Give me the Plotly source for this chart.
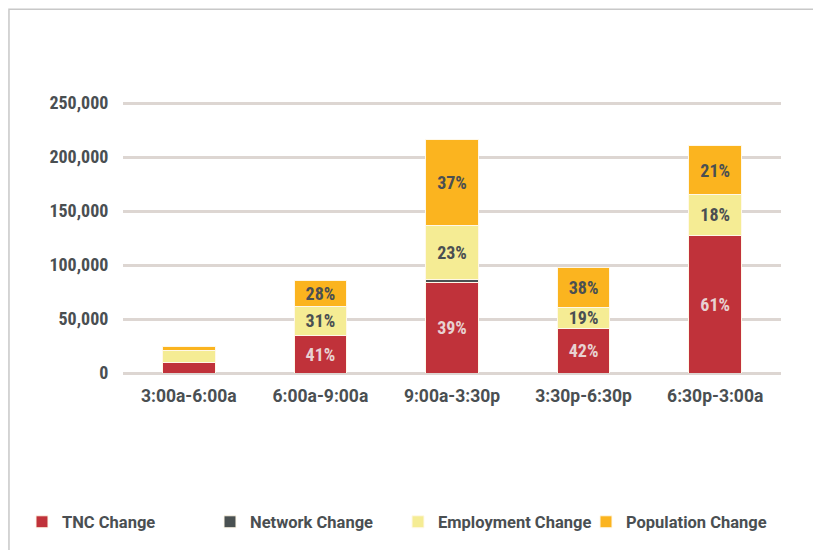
import plotly.graph_objects as go

categories = ["3:00a-6:00a", "6:00a-9:00a", "9:00a-3:30p", "3:30p-6:30p", "6:30p-3:00a"]
tnc = [10000, 35000, 83500, 41000, 127500]
network = [0, 0, 3500, 500, 0]
employment = [10500, 26500, 50000, 19000, 38000]
population = [4500, 24500, 79500, 37500, 45000]

tnc_labels = ["", "41%", "39%", "42%", "61%"]
network_labels = ["", "", "", "", ""]
employment_labels = ["", "31%", "23%", "19%", "18%"]
population_labels = ["", "28%", "37%", "38%", "21%"]

FONT = "Roboto Condensed, Liberation Sans Narrow, DejaVu Sans Condensed, Roboto"
FONT2 = "Roboto"
DARK = "#4a4f52"

series = [
    ("TNC Change", tnc, tnc_labels, "#c0323a", "#e8d2d2"),
    ("Network Change", network, network_labels, "#4a5152", DARK),
    ("Employment Change", employment, employment_labels, "#f5ec94", DARK),
    ("Population Change", population, population_labels, "#fbb41f", DARK),
]

fig = go.Figure()
for name, vals, labels, color, tcolor in series:
    fig.add_trace(go.Bar(
        x=categories, y=vals, name=name, text=labels,
        textposition="inside", insidetextanchor="middle", constraintext="none",
        textangle=0,
        textfont=dict(family=FONT, size=18, color=tcolor, weight="bold"),
        marker=dict(color=color, line=dict(color="#fff8e8", width=1)),
        hoverinfo="x+y+name",
    ))

fig.update_layout(
    barmode="stack",
    bargap=0.6,
    width=813, height=542,
    margin=dict(l=115, r=40, t=93, b=177, autoexpand=False),
    paper_bgcolor="white", plot_bgcolor="white",
    font=dict(family=FONT2, color=DARK, size=15),
    legend=dict(orientation="h", x=-0.1535, y=-0.548,
                xanchor="left", yanchor="middle",
                font=dict(family=FONT2, size=16.5, color=DARK, weight="bold"),
                traceorder="normal", itemwidth=30,
                entrywidth=143, entrywidthmode="pixels"),
    shapes=[dict(type="rect", xref="paper", yref="paper",
                 x0=-0.1733, x1=1.2, y0=-1.0, y1=1.337,
                 line=dict(color="#c8c8c8", width=1.5), layer="below")],
)
fig.update_xaxes(tickfont=dict(family=FONT2, size=17.5, color=DARK, weight="bold"),
                 showgrid=False, showline=False,
                 ticks="outside", ticklen=7, tickcolor="rgba(0,0,0,0)")
fig.update_yaxes(range=[0, 252000], tickvals=[0, 50000, 100000, 150000, 200000, 250000],
                 tickformat=",d", showgrid=True, gridcolor="#ddd6d2", gridwidth=3,
                 zeroline=True, zerolinecolor="#ddd6d2", zerolinewidth=3,
                 tickfont=dict(family=FONT, size=18, color=DARK, weight="bold"),
                 ticks="outside", ticklen=10, tickcolor="rgba(0,0,0,0)")

fig.write_html("out.html")
